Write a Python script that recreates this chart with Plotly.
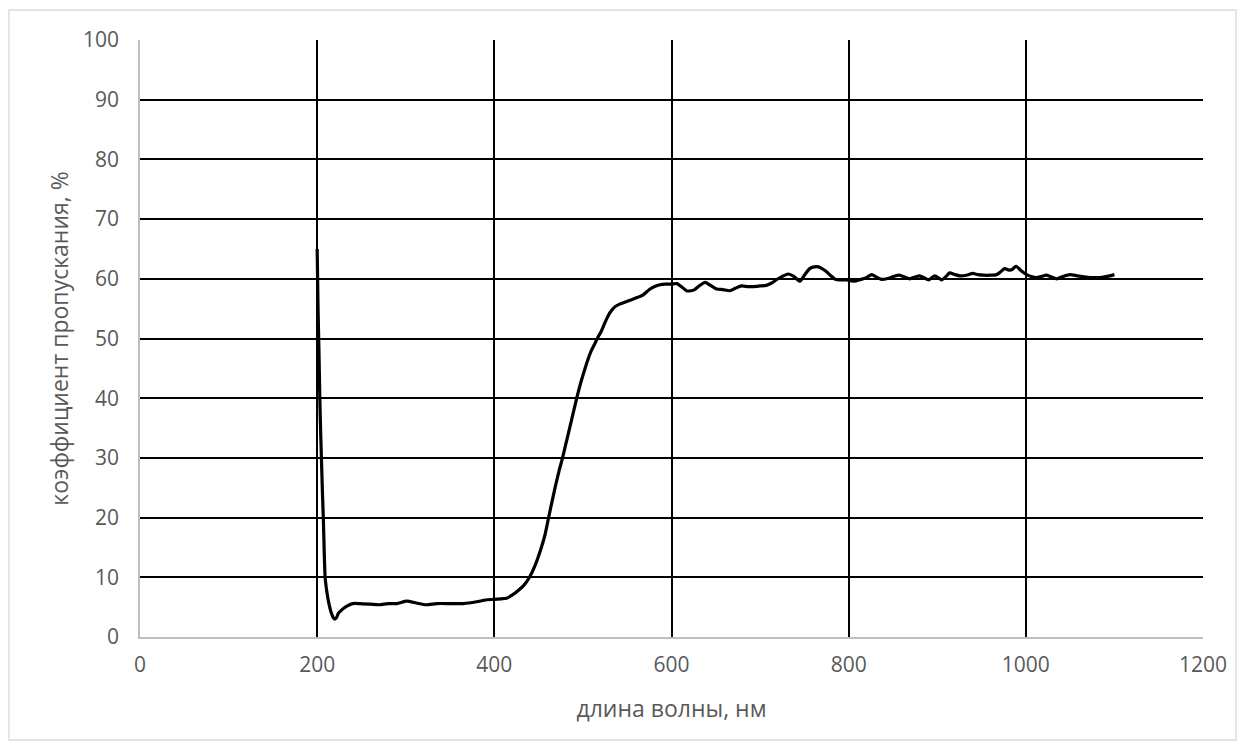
import plotly.graph_objects as go

wavelength = [200, 201, 202, 203, 204, 206, 207, 209, 211, 213, 216, 218, 220, 222, 224, 226, 230, 234, 240, 248,
              260, 270, 280, 290, 301, 312, 323, 335, 350, 365, 380, 390, 399, 408, 414, 420, 427, 433, 440, 446,
              452, 457, 461, 465, 469, 473, 477, 481, 485, 489, 493, 497, 501, 505, 509, 513, 517, 521, 525, 530,
              536, 542, 548, 555, 562,
              568, 575, 581, 587, 593, 600, 606, 611, 617, 622, 626, 632, 638, 644, 651, 658, 666, 672, 679, 686,
              692, 700, 707, 713, 718, 725, 732, 738, 745, 750, 756, 761, 766, 771, 775, 780, 785, 790, 798, 805,
              814, 820, 826, 831, 837, 845, 851, 857, 863, 869, 875, 880, 885, 890, 897, 902, 905, 910, 914, 920,
              926, 933, 940, 946, 952, 960, 967, 971, 976, 980, 984, 989, 995, 1001, 1006, 1012, 1018, 1023, 1029, 1035,
              1042, 1050, 1058, 1068, 1076, 1084, 1092, 1100]
transmission = [65, 55, 48, 40, 34, 24, 19.6, 10, 7.5, 5.8, 4.0, 3.3, 3.0, 3.3, 4.0, 4.3, 4.8, 5.2, 5.6, 5.6,
                5.5, 5.4, 5.6, 5.6, 6.0, 5.7, 5.4, 5.6, 5.6, 5.6, 5.9, 6.2, 6.3, 6.4, 6.5, 7.0, 7.8, 8.6, 10.1, 12.0,
                14.5, 17.0, 19.8, 22.6, 25.3, 27.8, 30.0, 32.5, 35.0, 37.5, 40.0, 42.3, 44.3, 46.2, 47.8, 49.0, 50.2, 51.3, 52.7, 54.2,
                55.3, 55.8, 56.1, 56.5, 56.9,
                57.3, 58.2, 58.7, 59.0, 59.1, 59.1, 59.2, 58.7, 58.0, 58.0, 58.2, 58.9, 59.4, 58.9, 58.3, 58.2, 58.0, 58.4, 58.8, 58.7,
                58.7, 58.8, 58.9, 59.3, 59.8, 60.4, 60.8, 60.4, 59.6, 60.6, 61.7, 62.0, 62.0, 61.6, 61.2, 60.5, 59.9, 59.8, 59.8, 59.6,
                59.9, 60.2, 60.7, 60.3, 59.9, 60.1, 60.4, 60.6, 60.3, 60.0, 60.3, 60.5, 60.2, 59.8, 60.5, 60.1, 59.8, 60.4, 61.0, 60.7,
                60.5, 60.6, 60.9, 60.7, 60.6, 60.6, 60.7, 61.1, 61.7, 61.5, 61.5, 62.1, 61.3, 60.7, 60.4, 60.2, 60.4, 60.6, 60.3, 60.0,
                60.4, 60.7, 60.5, 60.3, 60.2, 60.2, 60.4, 60.7]

x_ticks = [0, 200, 400, 600, 800, 1000, 1200]
y_ticks = [0, 10, 20, 30, 40, 50, 60, 70, 80, 90, 100]

x_title = "длина волны, нм"
y_title = "коэффициент пропускания, %"

FONT = "Open Sans"
GRAY = "#595959"
TICK_SIZE = 21
TITLE_SIZE = 23

fig = go.Figure()
fig.add_trace(go.Scatter(
    x=wavelength, y=transmission, mode="lines",
    line=dict(color="black", width=3.2, shape="spline", smoothing=0.6),
    showlegend=False, hoverinfo="skip",
))

# page body adds an 8px offset, so the figure is 8px smaller and margins shifted
fig.update_layout(
    width=1238, height=741,
    margin=dict(l=132, r=43, t=32, b=112, autoexpand=False),
    paper_bgcolor="white", plot_bgcolor="white",
    font=dict(family=FONT, color=GRAY, size=TICK_SIZE),
    showlegend=False,
)
fig.update_xaxes(
    range=[0, 1200], tickvals=x_ticks, ticktext=[str(v) for v in x_ticks],
    showgrid=True, gridcolor="black", gridwidth=1.6,
    zeroline=False, showline=True, linecolor="#bfbfbf", linewidth=1.5,
    ticks="", ticklabelstandoff=8,
    tickfont=dict(family=FONT, size=TICK_SIZE, color=GRAY),
    title=dict(text=x_title, font=dict(family=FONT, size=TITLE_SIZE, color=GRAY), standoff=24),
)
fig.update_yaxes(
    range=[0, 100], tickvals=y_ticks, ticktext=[str(v) for v in y_ticks],
    showgrid=True, gridcolor="black", gridwidth=1.6,
    zeroline=False, showline=True, linecolor="#bfbfbf", linewidth=1.5,
    ticks="", ticklabelstandoff=15,
    tickfont=dict(family=FONT, size=TICK_SIZE, color=GRAY),
    title=dict(text=y_title, font=dict(family=FONT, size=TITLE_SIZE, color=GRAY), standoff=8),
)
fig.add_shape(type="rect", xref="paper", yref="paper",
              x0=(9 - 140) / 1063, x1=(1236 - 140) / 1063,
              y0=(637 - 740) / 597, y1=(637 - 10) / 597,
              line=dict(color="#d9d9d9", width=1.3), fillcolor="rgba(0,0,0,0)", layer="below")

fig.write_html("out.html")
